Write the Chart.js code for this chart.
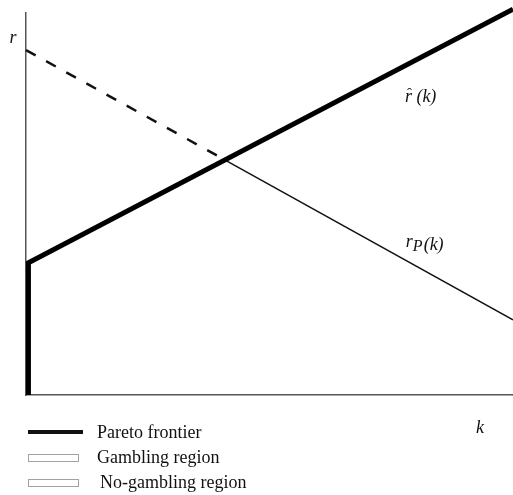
<!DOCTYPE html>
<html>
<head>
<meta charset="utf-8">
<script src="https://cdn.jsdelivr.net/npm/chart.js@4/dist/chart.umd.min.js"></script>
<style>
  body { margin: 0; background: #fff; }
</style>
</head>
<body>
<canvas id="chart" width="513" height="495"></canvas>
<script>
// Pareto frontier: vertical piece on the r axis, then r-hat(k) rising
var frontierK = [0.05, 0.05, 10];
var frontierR = [0, 3.46, 10.1];
// r_P(k): dashed where above r-hat, solid after the crossing
var rpDashK = [0, 4.09];
var rpDashR = [9.03, 6.15];
var rpSolidK = [4.09, 10];
var rpSolidR = [6.15, 1.97];

var legendLabels = ["Pareto frontier", "Gambling region", "No-gambling region"];

function pts(xs, ys) {
  return xs.map(function (x, i) { return { x: x, y: ys[i] }; });
}

var serif = '"Liberation Serif", "DejaVu Serif", serif';

var annotate = {
  id: 'annotate',
  afterDraw: function (chart) {
    var ctx = chart.ctx;
    var xs = chart.scales.x, ys = chart.scales.y;
    var area = chart.chartArea;
    ctx.save();
    ctx.fillStyle = '#111';
    ctx.textBaseline = 'middle';

    // axis names
    ctx.font = 'italic 18px ' + serif;
    ctx.textAlign = 'center';
    ctx.fillText('r', area.left - 13, area.top + 25);
    ctx.fillText('k', area.right - 33, area.bottom + 33);

    // curve labels
    ctx.textAlign = 'left';
    ctx.font = 'italic 18px ' + serif;
    var px = xs.getPixelForValue(7.78), py = ys.getPixelForValue(7.8);
    var rw = ctx.measureText('r').width;
    ctx.fillText('r', px, py);
    ctx.font = '15px ' + serif;
    ctx.textAlign = 'center';
    ctx.fillText('\u02C6', px + rw / 2 + 1, py - 3);
    ctx.textAlign = 'left';
    ctx.font = 'italic 18px ' + serif;
    ctx.fillText(' (k)', px + rw, py);

    px = xs.getPixelForValue(7.8);
    py = ys.getPixelForValue(3.93);
    ctx.fillText('r', px, py - 3);
    ctx.font = 'italic 16px ' + serif;
    ctx.fillText('P', px + rw, py + 2);
    var w2 = ctx.measureText('P').width;
    ctx.font = 'italic 18px ' + serif;
    ctx.fillText('(k)', px + rw + w2 + 1, py);

    // legend
    var lx = area.left + 2, tx = area.left + 71;
    var rows = [area.bottom + 38, area.bottom + 63, area.bottom + 88];
    ctx.font = '18px ' + serif;
    ctx.strokeStyle = '#111';
    ctx.lineWidth = 4;
    ctx.beginPath();
    ctx.moveTo(lx, rows[0] - 1);
    ctx.lineTo(lx + 55, rows[0] - 1);
    ctx.stroke();
    ctx.lineWidth = 1;
    ctx.strokeStyle = '#444';
    ctx.setLineDash([1, 1]);
    ctx.strokeRect(lx + 0.5, rows[1] - 3.5, 50, 7);
    ctx.strokeRect(lx + 0.5, rows[2] - 3.5, 50, 7);
    ctx.setLineDash([]);
    ctx.fillText(legendLabels[0], tx, rows[0]);
    ctx.fillText(legendLabels[1], tx, rows[1]);
    ctx.fillText(legendLabels[2], tx + 3, rows[2]);
    ctx.restore();
  }
};

new Chart(document.getElementById('chart'), {
  type: 'line',
  data: {
    datasets: [
      {
        label: 'Pareto frontier',
        data: pts(frontierK, frontierR),
        borderColor: '#000',
        borderWidth: 5,
        pointRadius: 0,
        clip: false
      },
      {
        label: 'r_P dashed',
        data: pts(rpDashK, rpDashR),
        borderColor: '#111',
        borderWidth: 2.5,
        borderDash: [11, 12],
        pointRadius: 0,
        clip: false
      },
      {
        label: 'r_P',
        data: pts(rpSolidK, rpSolidR),
        borderColor: '#111',
        borderWidth: 1.5,
        pointRadius: 0,
        clip: false
      }
    ]
  },
  options: {
    responsive: false,
    animation: false,
    layout: { padding: { left: 18, top: 13, right: 0, bottom: 92 } },
    plugins: {
      legend: { display: false },
      tooltip: { enabled: false }
    },
    scales: {
      x: {
        type: 'linear',
        min: 0,
        max: 10,
        grid: { display: false },
        ticks: { display: false },
        border: { display: true, color: '#555', width: 1.5 }
      },
      y: {
        type: 'linear',
        min: 0,
        max: 10,
        grid: { display: false },
        ticks: { display: false },
        border: { display: true, color: '#555', width: 1.5 }
      }
    }
  },
  plugins: [annotate]
});
</script>
</body>
</html>
